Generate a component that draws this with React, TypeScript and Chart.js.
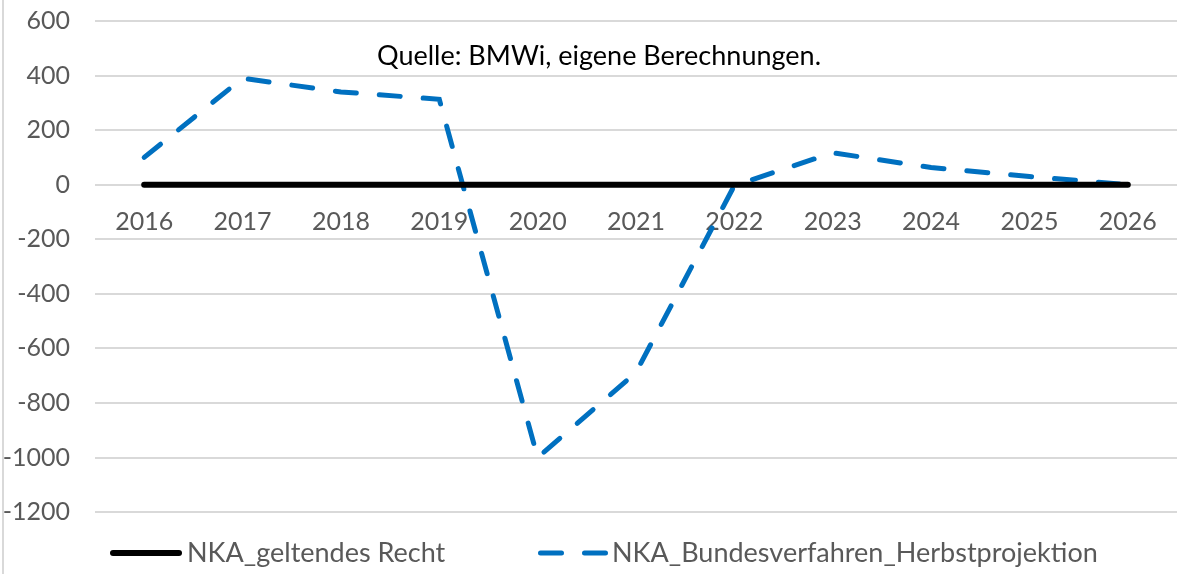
import React, { useEffect, useRef } from "react";
import { Chart, registerables } from "chart.js";

Chart.register(...registerables);

const years = ["2016", "2017", "2018", "2019", "2020", "2021", "2022", "2023", "2024", "2025", "2026"];
const geltendesRecht = [0, 0, 0, 0, 0, 0, 0, 0, 0, 0, 0];
const herbstprojektion = [100, 390, 340, 313, -1000, -688, -3, 117, 63, 30, 0];
const seriesNames = ["NKA_geltendes Recht", "NKA_Bundesverfahren_Herbstprojektion"];
const sourceNote = "Quelle: BMWi, eigene Berechnungen.";
const yTickValues = [-1200, -1000, -800, -600, -400, -200, 0, 200, 400, 600];

const FONT = "Lato, 'Noto Sans', sans-serif";
const GRAY = "#595959";
const BLUE = "#0070C0";
const DASH = [21, 23];

const overlay = {
  id: "overlay",
  beforeDraw(chart: any) {
    const ctx = chart.ctx;
    ctx.save();
    ctx.strokeStyle = "#d9d9d9";
    ctx.lineWidth = 2;
    ctx.beginPath();
    ctx.moveTo(3, 0);
    ctx.lineTo(3, chart.height);
    ctx.stroke();
    ctx.restore();
  },
  afterDraw(chart: any) {
    const ctx = chart.ctx;
    ctx.save();
    // source note
    ctx.fillStyle = "#000";
    ctx.font = `27px ${FONT}`;
    ctx.textAlign = "center";
    ctx.textBaseline = "middle";
    ctx.fillText(sourceNote, 599, 56);
    // legend
    const ly = 553;
    ctx.font = `27px ${FONT}`;
    ctx.textAlign = "left";
    ctx.fillStyle = GRAY;
    ctx.lineCap = "round";
    ctx.strokeStyle = "#000";
    ctx.lineWidth = 6;
    ctx.beginPath();
    ctx.moveTo(113, ly);
    ctx.lineTo(179, ly);
    ctx.stroke();
    ctx.fillText(seriesNames[0], 187, ly);
    ctx.strokeStyle = BLUE;
    ctx.lineWidth = 5;
    ctx.setLineDash(DASH);
    ctx.beginPath();
    ctx.moveTo(540.5, ly);
    ctx.lineTo(605.5, ly);
    ctx.stroke();
    ctx.setLineDash([]);
    ctx.fillText(seriesNames[1], 612, ly);
    ctx.restore();
  },
};

export default function App() {
  const ref = useRef<HTMLCanvasElement | null>(null);
  useEffect(() => {
    if (!ref.current) return;
    const chart = new Chart(ref.current, {
      type: "line",
      data: {
        labels: years,
        datasets: [
          {
            label: seriesNames[0],
            data: geltendesRecht,
            borderColor: "#000",
            borderWidth: 6,
            borderCapStyle: "round",
            pointRadius: 0,
            tension: 0,
          },
          {
            label: seriesNames[1],
            data: herbstprojektion,
            borderColor: BLUE,
            borderWidth: 5,
            borderDash: DASH,
            borderCapStyle: "round",
            pointRadius: 0,
            tension: 0,
          },
        ],
      },
      options: {
        responsive: false,
        animation: false,
        devicePixelRatio: 1,
        layout: { padding: { top: 21, bottom: 34.6, left: 0, right: 0 } },
        plugins: {
          legend: { display: false },
          tooltip: { enabled: false },
          title: { display: false },
        },
        scales: {
          x: {
            type: "category",
            position: { y: 0 } as any,
            offset: true,
            grid: { display: false, drawTicks: false },
            border: { display: false },
            ticks: { color: GRAY, font: { family: FONT, size: 25 }, padding: 22, maxRotation: 0, autoSkip: false },
            afterFit(scale: any) {
              scale.height = 0;
              scale.paddingLeft = 0;
              scale.paddingRight = 0;
            },
          },
          y: {
            min: -1300,
            max: 600,
            afterBuildTicks(scale: any) {
              scale.ticks = yTickValues.map((v) => ({ value: v }));
            },
            grid: { color: "#d9d9d9", lineWidth: 2, drawTicks: false },
            border: { display: false },
            ticks: {
              color: GRAY,
              font: { family: FONT, size: 25 },
              padding: 25,
              callback: (v: any) => String(v),
            },
            afterFit(scale: any) {
              scale.width = 95;
              scale.paddingTop = 0;
              scale.paddingBottom = 0;
            },
          },
        },
      },
      plugins: [overlay],
    });
    return () => chart.destroy();
  }, []);
  return (
    <div style={{ position: "fixed", left: 0, top: 0, width: 1177, height: 574, background: "#fff" }}>
      <canvas ref={ref} width={1177} height={574} style={{ width: 1177, height: 574 }} />
    </div>
  );
}
